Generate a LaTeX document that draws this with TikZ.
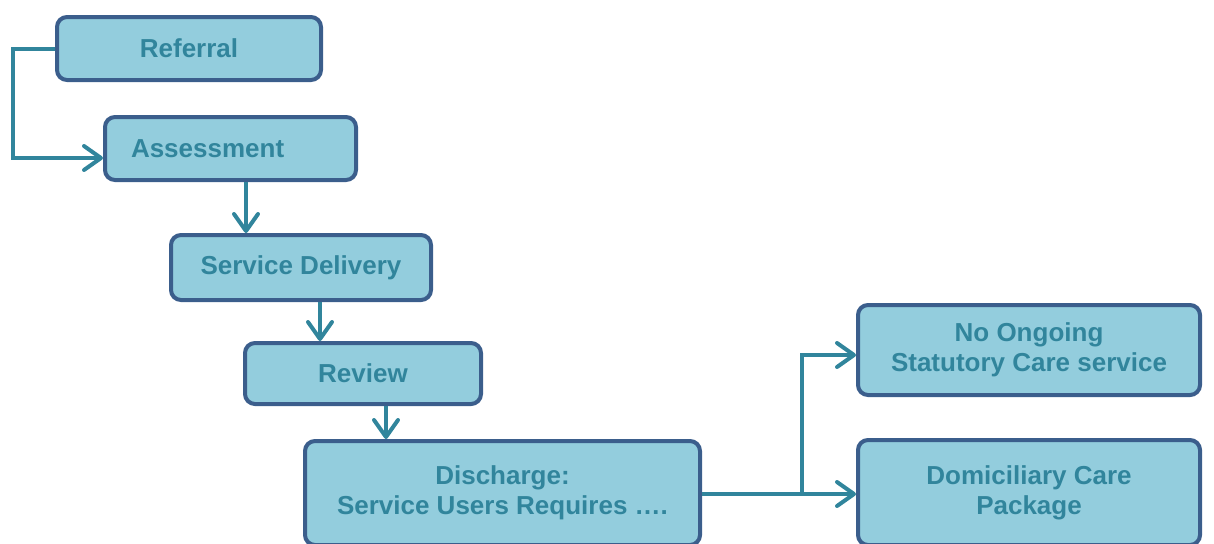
\documentclass[tikz,border=0pt]{standalone}
\usepackage{fontspec}
\setmainfont{Liberation Sans}
\usetikzlibrary{arrows.meta,calc}

\definecolor{boxfill}{HTML}{93CDDD}
\definecolor{boxline}{HTML}{3B5E8C}
\definecolor{teal}{HTML}{31859C}

\tikzset{
  stagebox/.style={draw=boxline, fill=boxfill, line width=2pt,
    rounded corners=5pt, text=teal, align=center,
    font=\bfseries\fontsize{13}{15}\selectfont, inner sep=0pt},
  conn/.style={draw=teal, line width=2pt,
    -{Straight Barb[length=8.5pt,width=12pt,line cap=round,line join=round]}},
  plainconn/.style={draw=teal, line width=2pt}
}

\begin{document}
\begin{tikzpicture}[x=0.5pt,y=-0.5pt]
\useasboundingbox (0,0) rectangle (1214,543);
\clip (0,0) rectangle (1214,543);

% process stages
\node[stagebox, minimum width=132pt, minimum height=31.5pt] (ref) at (189,48.5) {Referral};
\node[stagebox, minimum height=31.5pt, text width=99.5pt, inner xsep=13pt, align=left] (ass) at (230.5,148.5) {Assessment};
\node[stagebox, minimum width=130pt, minimum height=32.5pt] (svc) at (301,267.5) {Service Delivery};
\node[stagebox, minimum width=118pt, minimum height=30.5pt] (rev) at (363,373.5) {Review};
\node[stagebox, minimum width=197.5pt, minimum height=52pt] (dis) at (502.5,493) {Discharge:\\Service Users Requires \dots.};

% outcomes
\node[stagebox, minimum width=171pt, minimum height=45pt] (none) at (1029,350) {No Ongoing\\Statutory Care service};
\node[stagebox, minimum width=171pt, minimum height=52.5pt] (dom) at (1029,492.5) {Domiciliary Care\\Package};

% routing points
\coordinate (loopx) at (13,0);
\coordinate (assin) at (0,158);
\coordinate (c1) at (246,0);
\coordinate (c2) at (320,0);
\coordinate (c3) at (386,0);
\coordinate (split) at (802,494);
\coordinate (noney) at (0,355);

% connectors
\draw[conn] (ref.west) -| (loopx |- assin) -- (ass.west |- assin);
\draw[conn] (ass.south -| c1) -- (svc.north -| c1);
\draw[conn] (svc.south -| c2) -- (rev.north -| c2);
\draw[conn] (rev.south -| c3) -- (dis.north -| c3);
\draw[plainconn] (dis.east |- split) -- (split);
\draw[conn] (split) |- (none.west |- noney);
\draw[conn] (split) -- (dom.west |- split);
\end{tikzpicture}
\end{document}
